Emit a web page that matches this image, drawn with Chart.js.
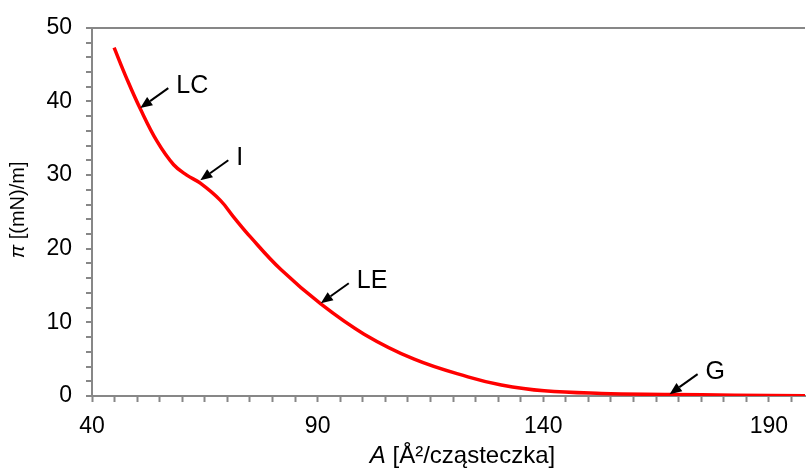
<!DOCTYPE html>
<html>
<head>
<meta charset="utf-8">
<script src="https://cdn.jsdelivr.net/npm/chart.js@4/dist/chart.umd.min.js"></script>
<style>
  html, body { margin: 0; padding: 0; background: #fff; }
  #wrap { width: 806px; height: 469px; }
</style>
</head>
<body>
<div id="wrap"><canvas id="isotherm" width="806" height="469"></canvas></div>
<script>
// Isotherm: A [Å²/molecule] -> π [mN/m]
const areaValues = [44.9, 47.7, 50.7, 54.4, 58.1, 61.0, 64.0, 68.4, 71.4, 75.1, 81.8, 90.7, 100.3, 111.4, 123.3, 130.7, 140.2, 152.9, 168.0, 182.4, 198.0];
const pressureValues = [47.3, 43.1, 39.0, 34.6, 31.4, 30.0, 28.9, 26.6, 24.3, 21.6, 17.2, 12.5, 8.4, 5.0, 2.6, 1.5, 0.7, 0.35, 0.22, 0.1, 0.05];

// axis ticks (labelled ones)
const xTickLabels = [40, 90, 140, 190];
const yTickLabels = [0, 10, 20, 30, 40, 50];

// phase labels, arrow tip sits on the curve
const phaseNames = ['LC', 'I', 'LE', 'G'];
const phaseArea = [50.7, 64.0, 90.7, 168.0];
const phasePressure = [39.1, 29.3, 12.6, 0.25];

const AXIS_GREY = '#878787';
const FONT = '"Liberation Sans", Arial, sans-serif';

// arrows + labels
const phaseArrows = {
  id: 'phaseArrows',
  afterDatasetsDraw(chart) {
    const { ctx, scales } = chart;
    ctx.save();
    phaseNames.forEach((name, i) => {
      const tx = scales.x.getPixelForValue(phaseArea[i]);
      const ty = scales.y.getPixelForValue(phasePressure[i]);
      const sx = tx + 28, sy = ty - 20;
      const ang = Math.atan2(ty - sy, tx - sx);
      const headLen = 12, headW = 5;
      const bx = tx - headLen * Math.cos(ang), by = ty - headLen * Math.sin(ang);
      ctx.strokeStyle = '#000';
      ctx.lineWidth = 2;
      ctx.beginPath();
      ctx.moveTo(sx, sy);
      ctx.lineTo(bx, by);
      ctx.stroke();
      ctx.fillStyle = '#000';
      ctx.beginPath();
      ctx.moveTo(tx, ty);
      ctx.lineTo(bx + headW * Math.sin(ang), by - headW * Math.cos(ang));
      ctx.lineTo(bx - headW * Math.sin(ang), by + headW * Math.cos(ang));
      ctx.closePath();
      ctx.fill();
      ctx.font = '25px ' + FONT;
      ctx.textAlign = 'left';
      ctx.textBaseline = 'middle';
      ctx.fillText(name, sx + 8, sy - 2);
    });
    ctx.restore();
  }
};

// axis titles with the italic symbol
function drawMixed(ctx, parts, size) {
  let total = 0;
  parts.forEach(p => {
    ctx.font = (p.italic ? 'italic ' : '') + size + 'px ' + FONT;
    p.w = ctx.measureText(p.text).width;
    total += p.w;
  });
  let x = -total / 2;
  parts.forEach(p => {
    ctx.font = (p.italic ? 'italic ' : '') + size + 'px ' + FONT;
    ctx.fillText(p.text, x, 0);
    x += p.w;
  });
}

const axisTitles = {
  id: 'axisTitles',
  afterDraw(chart) {
    const { ctx, chartArea } = chart;
    ctx.save();
    ctx.fillStyle = '#000';
    ctx.textAlign = 'left';
    ctx.textBaseline = 'alphabetic';
    ctx.translate((chartArea.left + chartArea.right) / 2 + 14, 463);
    drawMixed(ctx, [{ text: 'A', italic: true }, { text: ' [Å²/cząsteczka]' }], 24);
    ctx.restore();

    ctx.save();
    ctx.fillStyle = '#000';
    ctx.textAlign = 'left';
    ctx.textBaseline = 'alphabetic';
    ctx.translate(24, (chartArea.top + chartArea.bottom) / 2 - 2);
    ctx.rotate(-Math.PI / 2);
    drawMixed(ctx, [{ text: 'π', italic: true }, { text: ' [(mN)/m]' }], 20);
    ctx.restore();
  }
};

new Chart(document.getElementById('isotherm'), {
  type: 'scatter',
  data: {
    datasets: [{
      data: areaValues.map((a, i) => ({ x: a, y: pressureValues[i] })),
      showLine: true,
      borderColor: '#FF0000',
      borderWidth: 3.5,
      pointRadius: 0,
      tension: 0.4
    }]
  },
  options: {
    responsive: false,
    animation: false,
    layout: { padding: { top: 22, right: 1, left: 0, bottom: 0 } },
    plugins: { legend: { display: false }, tooltip: { enabled: false } },
    scales: {
      x: {
        type: 'linear',
        min: 40,
        max: 198,
        afterFit: s => { s.height = 73; },
        border: { color: AXIS_GREY, width: 2 },
        grid: { drawOnChartArea: false, tickLength: 6, tickColor: AXIS_GREY, tickWidth: 2 },
        ticks: {
          stepSize: 5,
          includeBounds: false,
          autoSkip: false,
          maxRotation: 0,
          padding: 11,
          color: '#000',
          font: { family: FONT, size: 23 },
          callback: v => xTickLabels.includes(v) ? String(v) : ''
        }
      },
      y: {
        min: 0,
        max: 50,
        afterFit: s => { s.width = 92; },
        border: { color: AXIS_GREY, width: 2 },
        grid: {
          drawOnChartArea: true,
          color: c => c.tick && c.tick.value === 50 ? AXIS_GREY : 'rgba(0,0,0,0)',
          lineWidth: 2,
          tickLength: 6,
          tickColor: AXIS_GREY,
          tickWidth: 2
        },
        ticks: {
          stepSize: 2,
          autoSkip: false,
          padding: 14,
          color: '#000',
          font: { family: FONT, size: 23 },
          callback: v => yTickLabels.includes(v) ? String(v) : ''
        }
      }
    }
  },
  plugins: [phaseArrows, axisTitles]
});
</script>
</body>
</html>
